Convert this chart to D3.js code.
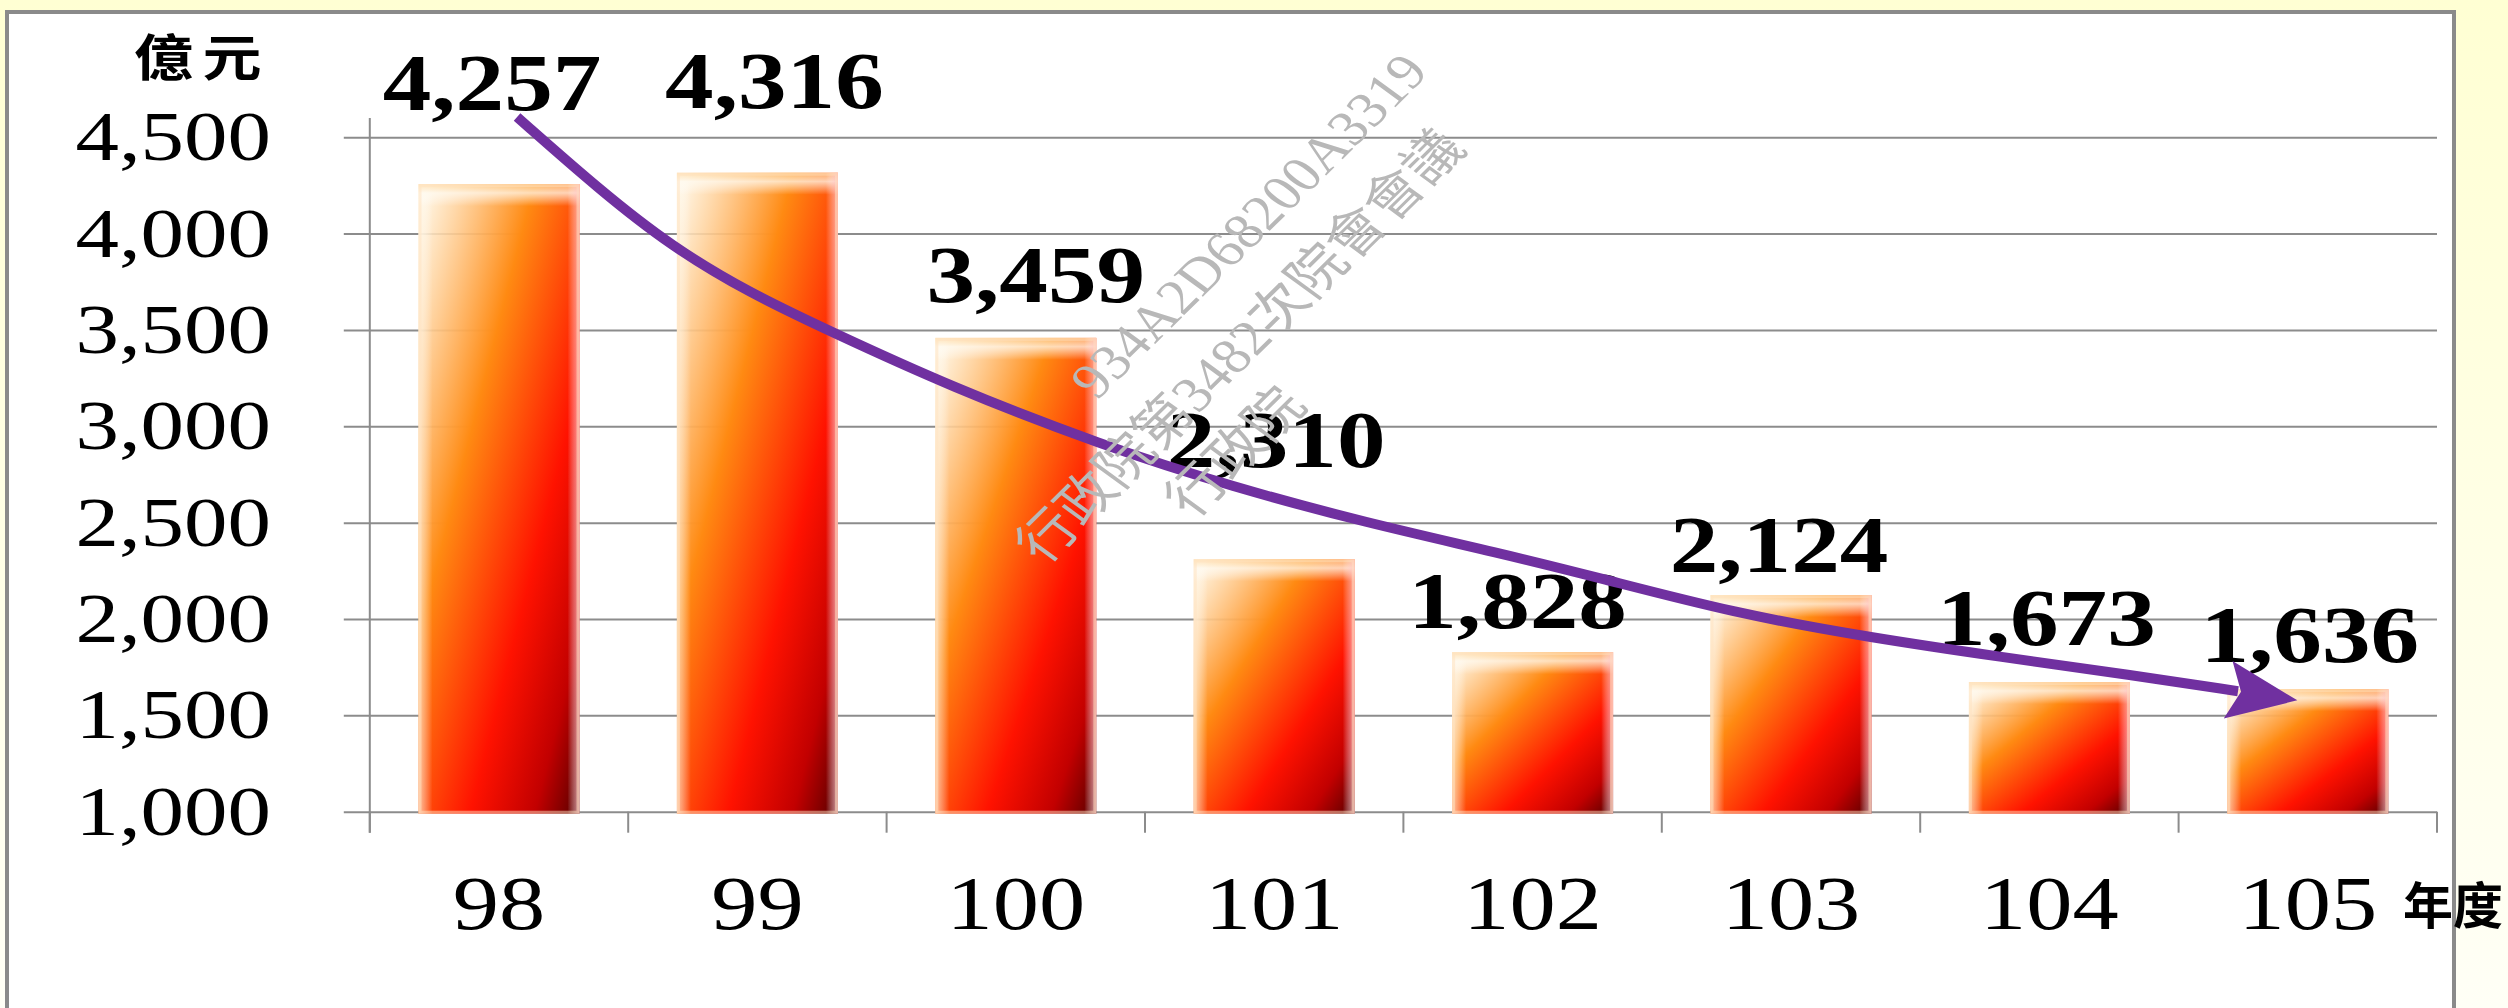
<!DOCTYPE html>
<html>
<head>
<meta charset="utf-8">
<script src="https://cdn.jsdelivr.net/npm/d3@7"></script>
<style>
  body { margin: 0; background: #fffff0; }
  svg { display: block; }
</style>
</head>
<body>
<div id="chart"></div>
<script>
// values (億元 per 年度)
var years = ['98', '99', '100', '101', '102', '103', '104', '105'];
var amounts = [4257, 4316, 3459, 2310, 1828, 2124, 1673, 1636];
var yTicks = [1000, 1500, 2000, 2500, 3000, 3500, 4000, 4500];
var yLabels = ['1,000', '1,500', '2,000', '2,500', '3,000', '3,500', '4,000', '4,500'];

// hand drawn trend arrow: category index (0 = 98) and value in 億元
var trendIndex = [0.07, 0.39, 0.67, 0.97, 1.27, 1.75, 2.33, 2.84, 3.36, 3.87, 4.26, 4.78, 5.29, 5.81, 6.32, 6.73];
var trendValue = [4605, 4226, 3931, 3692, 3500, 3204, 2903, 2685, 2498, 2343, 2213, 2031, 1907, 1803, 1709, 1625];

var watermarkLines = ['934A2D68200A3319', '行政院第3482次院會會議', '行政院'];

var width = 2508, height = 1008;
var plot = {left: 369.8, right: 2437, top: 118, bottom: 811.7};

// data labels were nudged by hand in the original: [dx, gap above bar]
var labelNudge = [[-7, 74], [17, 65], [20, 36], [2, 92], [-15, 24], [-12, 23], [-3, 37], [2, 27]];

var svg = d3.select('#chart').append('svg')
    .attr('width', width)
    .attr('height', height);

var defs = svg.append('defs');

var bg = defs.append('linearGradient')
    .attr('id', 'page-bg')
    .attr('x1', 0).attr('y1', 0).attr('x2', 0).attr('y2', 1);
bg.append('stop').attr('offset', 0).attr('stop-color', '#ffffd3');
bg.append('stop').attr('offset', 1).attr('stop-color', '#fffff6');

var fire = defs.append('linearGradient')
    .attr('id', 'fire')
    .attr('x1', 0).attr('y1', 0).attr('x2', 1).attr('y2', 1);
[[0, '#fffdf2', 0.85], [0.12, '#ffd7a6', 0.88], [0.36, '#ff8a12', 1],
 [0.66, '#ff1200', 1], [0.86, '#c20000', 1], [1, '#560000', 1]].forEach(function(s) {
    fire.append('stop').attr('offset', s[0]).attr('stop-color', s[1]).attr('stop-opacity', s[2]);
});

var topShine = defs.append('linearGradient')
    .attr('id', 'top-shine')
    .attr('x1', 0).attr('y1', 0).attr('x2', 0).attr('y2', 1);
topShine.append('stop').attr('offset', 0).attr('stop-color', '#ffd9a0').attr('stop-opacity', 0.6);
topShine.append('stop').attr('offset', 0.4).attr('stop-color', '#fffaf0').attr('stop-opacity', 0.75);
topShine.append('stop').attr('offset', 1).attr('stop-color', '#ffffff').attr('stop-opacity', 0);

var rightEdge = defs.append('linearGradient')
    .attr('id', 'right-edge')
    .attr('x1', 0).attr('y1', 0).attr('x2', 1).attr('y2', 0);
rightEdge.append('stop').attr('offset', 0).attr('stop-color', '#ffffff').attr('stop-opacity', 0);
rightEdge.append('stop').attr('offset', 1).attr('stop-color', '#ffc0c8').attr('stop-opacity', 0.75);

var leftEdge = defs.append('linearGradient')
    .attr('id', 'left-edge')
    .attr('x1', 0).attr('y1', 0).attr('x2', 1).attr('y2', 0);
leftEdge.append('stop').attr('offset', 0).attr('stop-color', '#fff4e0').attr('stop-opacity', 0.7);
leftEdge.append('stop').attr('offset', 1).attr('stop-color', '#ffffff').attr('stop-opacity', 0);

defs.append('marker')
    .attr('id', 'arrow-head')
    .attr('markerUnits', 'userSpaceOnUse')
    .attr('viewBox', '0 -32 74 64')
    .attr('refX', 10).attr('refY', 0)
    .attr('markerWidth', 74).attr('markerHeight', 64)
    .attr('orient', 'auto')
    .append('path')
    .attr('d', 'M0,-29L70,0L0,29L13,0Z')
    .attr('fill', '#7030a0');

svg.append('rect')
    .attr('width', width).attr('height', height)
    .attr('fill', 'url(#page-bg)');

// white chart frame
svg.append('rect')
    .attr('x', 7).attr('y', 12)
    .attr('width', 2447).attr('height', 1080)
    .attr('fill', '#ffffff')
    .attr('stroke', '#8a8a8a')
    .attr('stroke-width', 4);

var xScale = d3.scaleBand()
    .domain(years)
    .range([plot.left, plot.right])
    .paddingInner(0.377)
    .paddingOuter(0.1885);

var yScale = d3.scaleLinear()
    .domain([1000, 4600])
    .range([plot.bottom, plot.top]);

var centerOf = function(i) { return xScale(years[i]) + xScale.bandwidth() / 2; };
var indexScale = d3.scaleLinear().domain([0, years.length - 1]).range([centerOf(0), centerOf(years.length - 1)]);

function stretched(parent, x, y, str, sx) {
    return parent.append('g')
        .attr('transform', `translate(${x},${y}) scale(${sx},1)`)
        .append('text')
        .text(str);
}

// gridlines (they also form the y ticks)
var yAxis = d3.axisLeft(yScale)
    .tickValues(yTicks)
    .tickSize(-(plot.right - plot.left))
    .tickSizeOuter(0)
    .tickFormat('');

var yg = svg.append('g')
    .attr('class', 'y axis')
    .attr('transform', `translate(${plot.left},0)`)
    .call(yAxis);
yg.select('.domain').remove();
yg.selectAll('.tick line')
    .attr('x1', -26)
    .attr('stroke', '#8c8c8c')
    .attr('stroke-width', 2);

// y axis line
svg.append('line')
    .attr('x1', plot.left).attr('x2', plot.left)
    .attr('y1', plot.top).attr('y2', plot.bottom + 21)
    .attr('stroke', '#8c8c8c')
    .attr('stroke-width', 2);

// x axis tick marks between categories
var boundaries = years.map(function(d) { return xScale(d) - xScale.step() * xScale.paddingInner() / 2; });
boundaries.push(plot.right);
svg.selectAll('.xtick')
    .data(boundaries)
    .enter()
    .append('line')
    .attr('class', 'xtick')
    .attr('x1', d => d).attr('x2', d => d)
    .attr('y1', plot.bottom).attr('y2', plot.bottom + 21)
    .attr('stroke', '#8c8c8c')
    .attr('stroke-width', 2);

// bars
var bars = svg.selectAll('.bar')
    .data(amounts)
    .enter()
    .append('g')
    .attr('class', 'bar');

bars.append('rect')
    .attr('x', (d, i) => xScale(years[i]))
    .attr('y', d => yScale(d))
    .attr('width', xScale.bandwidth())
    .attr('height', d => plot.bottom + 2 - yScale(d))
    .attr('fill', 'url(#fire)');

bars.append('rect')
    .attr('x', (d, i) => xScale(years[i]))
    .attr('y', d => yScale(d))
    .attr('width', 14)
    .attr('height', d => plot.bottom + 2 - yScale(d))
    .attr('fill', 'url(#left-edge)');

bars.append('rect')
    .attr('x', (d, i) => xScale(years[i]))
    .attr('y', d => yScale(d))
    .attr('width', xScale.bandwidth())
    .attr('height', 22)
    .attr('fill', 'url(#top-shine)');

bars.append('rect')
    .attr('x', (d, i) => xScale(years[i]) + xScale.bandwidth() - 12)
    .attr('y', d => yScale(d))
    .attr('width', 12)
    .attr('height', d => plot.bottom + 2 - yScale(d))
    .attr('fill', 'url(#right-edge)');

bars.append('rect')
    .attr('x', (d, i) => xScale(years[i]) + 1.5)
    .attr('y', d => yScale(d) + 1.5)
    .attr('width', xScale.bandwidth() - 3)
    .attr('height', d => plot.bottom - yScale(d) - 1)
    .attr('fill', 'none')
    .attr('stroke', '#ffe2c0')
    .attr('stroke-opacity', 0.5)
    .attr('stroke-width', 3);

// y tick labels
var yTickLabels = svg.append('g')
    .attr('font-family', '"Liberation Serif", "Times New Roman", serif')
    .attr('font-size', 69)
    .attr('fill', '#000');
yTicks.forEach(function(t, i) {
    stretched(yTickLabels, 271, yScale(t) + 23, yLabels[i], 1.26).attr('text-anchor', 'end');
});

// unit label
stretched(svg, 134, 76, '億元', 1.18)
    .attr('font-family', '"Noto Sans CJK TC", "Noto Sans CJK SC", sans-serif')
    .attr('font-weight', 700)
    .attr('font-size', 50)
    .attr('letter-spacing', 8);

// category labels
var xLabels = svg.append('g')
    .attr('font-family', '"Liberation Serif", "Times New Roman", serif')
    .attr('font-size', 77)
    .attr('fill', '#000');
years.forEach(function(y, i) {
    stretched(xLabels, centerOf(i), 929, y, 1.2).attr('text-anchor', 'middle');
});

stretched(svg, 2403, 924, '年度', 1.0)
    .attr('font-family', '"Noto Sans CJK TC", "Noto Sans CJK SC", sans-serif')
    .attr('font-weight', 700)
    .attr('font-size', 50);

// value labels
var valueLabels = svg.append('g')
    .attr('font-family', '"Liberation Serif", "Times New Roman", serif')
    .attr('font-weight', 700)
    .attr('font-size', 81)
    .attr('fill', '#000');
amounts.forEach(function(v, i) {
    stretched(valueLabels, centerOf(i) + labelNudge[i][0], yScale(v) - labelNudge[i][1], d3.format(',')(v), 1.2)
        .attr('text-anchor', 'middle');
});

// trend arrow
var trendLine = d3.line()
    .x(d => indexScale(d[0]))
    .y(d => yScale(d[1]))
    .curve(d3.curveBasis);

svg.append('path')
    .datum(trendIndex.map((t, i) => [t, trendValue[i]]))
    .attr('d', trendLine)
    .attr('fill', 'none')
    .attr('stroke', '#7030a0')
    .attr('stroke-width', 10)
    .attr('marker-end', 'url(#arrow-head)');

// watermark
var wm = svg.append('g')
    .attr('font-family', '"Liberation Serif", "Noto Sans CJK TC", serif')
    .attr('font-size', 50)
    .attr('fill', '#b8b8b8');
var wmStart = [[1097, 401], [1044, 566], [1193, 520]];
watermarkLines.forEach(function(line, i) {
    wm.append('g')
        .attr('transform', `translate(${wmStart[i][0]},${wmStart[i][1]}) scale(1.18,1) rotate(-49.3)`)
        .append('text')
        .text(line);
});
</script>
</body>
</html>
